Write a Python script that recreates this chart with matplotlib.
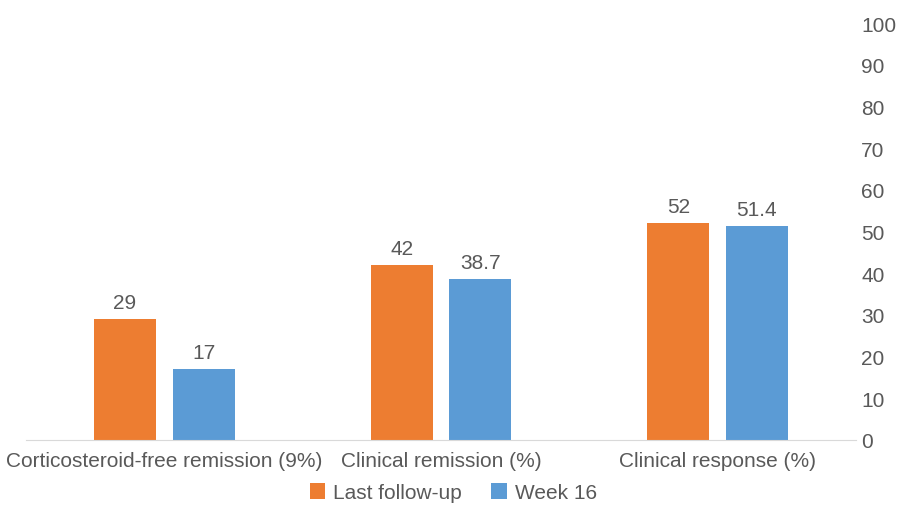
import numpy as np
import matplotlib.pyplot as plt

categories = ['Corticosteroid-free remission (9%)', 'Clinical remission (%)', 'Clinical response (%)']
last_followup = [29, 42, 52]
week16 = [17, 38.7, 51.4]
series_names = ['Last follow-up', 'Week 16']

orange = '#ED7D31'
blue = '#5B9BD5'
grey = '#595959'

plt.rcParams['font.family'] = ['Liberation Sans', 'DejaVu Sans']
fs = 15

fig = plt.figure(figsize=(8.98, 5.06), dpi=100)
ax = fig.add_axes([0.029, 0.1285, 0.924, 0.824])

x = np.arange(len(categories))
w = 0.224
gap = 0.06
b1 = ax.bar(x - (w + gap) / 2, last_followup, w, color=orange, label=series_names[0])
b2 = ax.bar(x + (w + gap) / 2, week16, w, color=blue, label=series_names[1])

for bars, vals in [(b1, last_followup), (b2, week16)]:
    for bar, v in zip(bars, vals):
        ax.text(bar.get_x() + bar.get_width() / 2, v + 1.6, f'{v:g}',
                ha='center', va='bottom', fontsize=fs, color=grey)

ax.set_xlim(-0.5, 2.5)
ax.set_ylim(0, 100)
ax.set_yticks(range(0, 101, 10))
ax.yaxis.tick_right()
ax.tick_params(axis='y', length=0, labelsize=fs, labelcolor=grey, pad=4)
ax.set_xticks(x)
ax.set_xticklabels(categories)
ax.tick_params(axis='x', length=0, labelsize=fs, labelcolor=grey, pad=8)

for s in ['top', 'left', 'right']:
    ax.spines[s].set_visible(False)
ax.spines['bottom'].set_color('#D9D9D9')

fig.legend(loc='center', bbox_to_anchor=(0.505, 0.024), ncol=2, frameon=False,
           fontsize=fs, labelcolor=grey, handlelength=0.75, handleheight=0.75,
           handletextpad=0.4, columnspacing=1.4)

fig.savefig('out.png', dpi=100)
